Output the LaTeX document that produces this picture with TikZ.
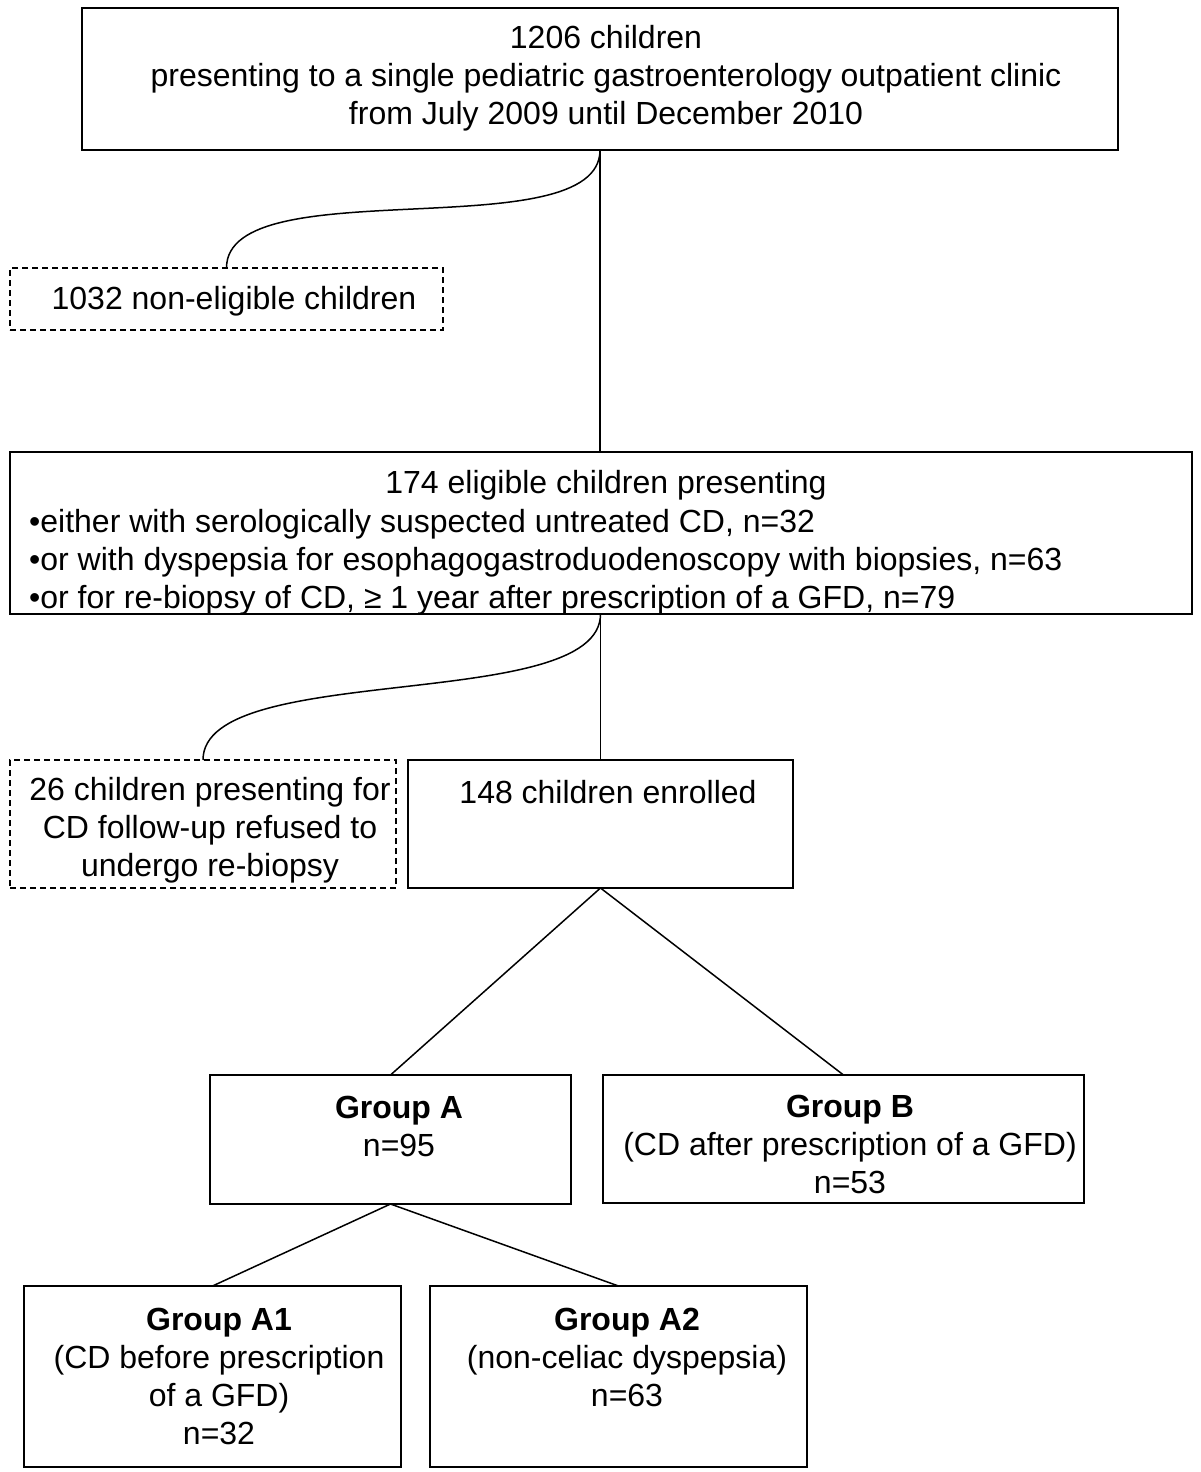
\documentclass[tikz,border=0pt]{standalone}
\usepackage{fontspec}
\setmainfont{Liberation Sans}
\begin{document}
\begin{tikzpicture}[x=1pt,y=-1pt]
\tikzset{
 solidbox/.style={draw, line width=1.8pt, inner sep=0pt, outer sep=0pt},
 dashbox/.style={draw, line width=1.5pt, dash pattern=on 6pt off 4pt, inner sep=0pt, outer sep=0pt},
 txt/.style={font=\fontsize{32}{38}\selectfont, align=center, inner sep=0pt},
 link/.style={line width=1.5pt}
}
\useasboundingbox[fill=white] (0,0) rectangle (1200,1472);
% boxes
\node[solidbox, minimum width=1036pt, minimum height=142pt] (b1) at (600,79) {};
\node[dashbox, minimum width=433pt, minimum height=62pt] (d1) at (226.5,299) {};
\node[solidbox, minimum width=1182pt, minimum height=162pt] (b2) at (601,533) {};
\node[dashbox, minimum width=386pt, minimum height=128pt] (d2) at (203,824) {};
\node[solidbox, minimum width=385pt, minimum height=128pt] (b3) at (600.5,824) {};
\node[solidbox, minimum width=361pt, minimum height=129pt] (ga) at (390.5,1139.5) {};
\node[solidbox, minimum width=481pt, minimum height=128pt] (gb) at (843.5,1139) {};
\node[solidbox, minimum width=377pt, minimum height=181pt] (ga1) at (212.5,1376.5) {};
\node[solidbox, minimum width=377pt, minimum height=181pt] (ga2) at (618.5,1376.5) {};
% texts
\node[txt] (t1) at (606,78) {1206 children\\presenting to a single pediatric gastroenterology outpatient clinic\\from July 2009 until December 2010};
\node[txt] (td1) at (234,301) {1032 non-eligible children};
\node[txt] (t2) at (606,485) {174 eligible children presenting};
\node[txt, align=left, anchor=west] (t2b) at (29,562) {•either with serologically suspected untreated CD, n=32\\•or with dyspepsia for esophagogastroduodenoscopy with biopsies, n=63\\•or for re-biopsy of CD, ≥ 1 year after prescription of a GFD, n=79};
\node[txt] (td2) at (210,830) {26 children presenting for\\CD follow-up refused to\\undergo re-biopsy};
\node[txt] (t3) at (608,792) {148 children enrolled};
\node[txt] (tga) at (399,1126) {\textbf{Group A}\\n=95};
\node[txt] (tgb) at (850,1144) {\textbf{Group B}\\(CD after prescription of a GFD)\\n=53};
\node[txt] (tga1) at (219,1376) {\textbf{Group A1}\\(CD before prescription\\of a GFD)\\n=32};
\node[txt] (tga2) at (627,1357) {\textbf{Group A2}\\(non-celiac dyspepsia)\\n=63};
% connectors
\draw[link] (b1.south) -- (b1.south |- b2.north);
\draw[link] (b1.south) .. controls +(0,100) and +(0,-100) .. (d1.north);
\draw[link] (b2.south -| b3.north) -- (b3.north);
\draw[link] (b2.south -| b3.north) .. controls +(0,100) and +(0,-100) .. (d2.north);
\draw[link] (b3.south) -- (ga.north);
\draw[link] (b3.south) -- (gb.north);
\draw[link] (ga.south) -- (ga1.north);
\draw[link] (ga.south) -- (ga2.north);
\end{tikzpicture}
\end{document}
